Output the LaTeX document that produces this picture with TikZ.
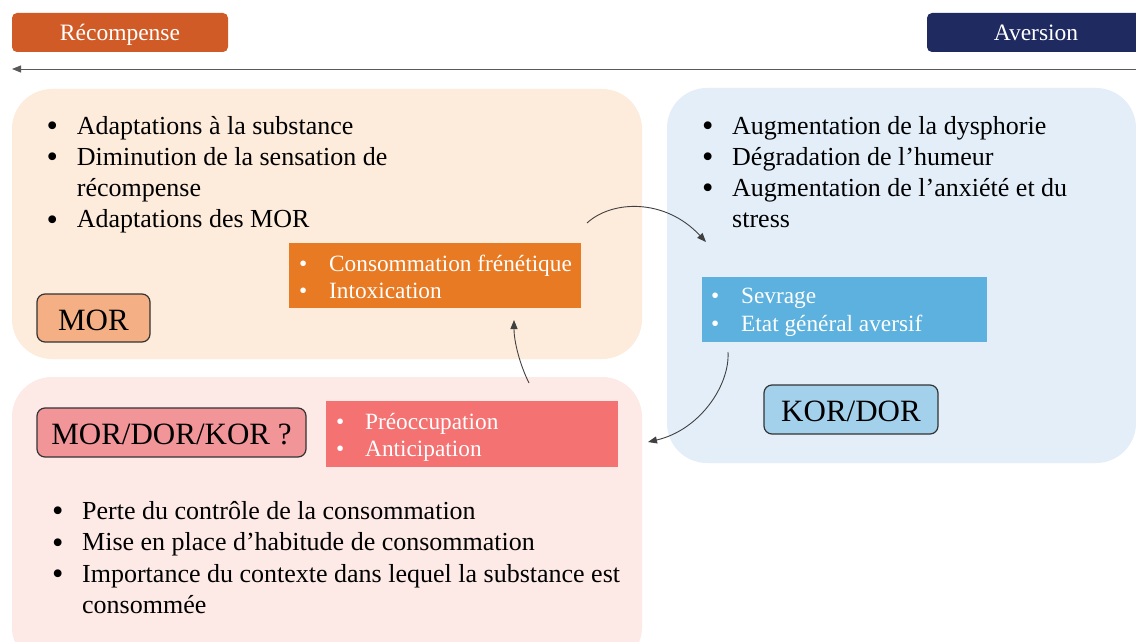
\documentclass[tikz,border=0pt]{standalone}
\usepackage{fontspec}
\setmainfont{Liberation Serif}
\usetikzlibrary{arrows.meta}
\definecolor{recomp}{HTML}{D05B26}
\definecolor{avers}{HTML}{1F2A60}
\definecolor{tlpanel}{HTML}{FDEBDC}
\definecolor{rpanel}{HTML}{E3EEF9}
\definecolor{bpanel}{HTML}{FDE9E5}
\definecolor{orangebox}{HTML}{E97A24}
\definecolor{morfill}{HTML}{F4B084}
\definecolor{mdkfill}{HTML}{F29599}
\definecolor{pinkbox}{HTML}{F47272}
\definecolor{bluebox}{HTML}{5CB1DE}
\definecolor{kdfill}{HTML}{A3D1EC}
\newcommand{\bl}{\raisebox{-2.3pt}{\scalebox{1.25}{\textbullet}}}
\newcommand{\sbl}{\textbullet}
\begin{document}
\begin{tikzpicture}[x=1pt,y=-1pt,
  panel/.style={rectangle, rounded corners=40pt, inner sep=0pt, draw=none},
  tagbox/.style={rectangle, rounded corners=5pt, inner sep=0pt, text=white, text height=17pt, text depth=0pt, font=\fontsize{23.5}{28}\selectfont},
  lab/.style={rectangle, draw=black!80, line width=1.2pt, rounded corners=8pt, inner sep=0pt, text height=24pt, text depth=0pt, font=\fontsize{31}{37}\selectfont},
  sbox/.style={rectangle, inner sep=0pt, draw=none},
  blist/.style={anchor=base west, inner sep=0pt, font=\fontsize{26}{31.3}\selectfont},
  slist/.style={anchor=base west, inner sep=0pt, text=white, font=\fontsize{23.3}{27.5}\selectfont},
  conn/.style={draw=black!75, line width=0.9pt, -{Triangle[length=9pt,width=7pt]}}
]
\useasboundingbox (0,0) rectangle (1136,642);
\fill[white] (0,0) rectangle (1136,642);

% top tags
\node[tagbox, fill=recomp, minimum width=216pt, minimum height=39pt] (recomp) at (120,32.5) {Récompense};
\node[tagbox, fill=avers, minimum width=218pt, minimum height=39pt] (avers) at (1036,32.5) {Aversion};

% axis arrow
\coordinate (axR) at (1136,69);
\coordinate (axL) at (12,69);
\draw[draw=black!65, line width=0.9pt, -{Triangle[length=9pt,width=7pt]}] (axR) -- (axL);

% panels
\node[panel, fill=tlpanel, minimum width=630pt, minimum height=270pt] (tl) at (327,224) {};
\node[panel, fill=rpanel, minimum width=469pt, minimum height=375pt] (rp) at (901.5,275.5) {};
\node[panel, fill=bpanel, minimum width=630pt, minimum height=290pt] (bp) at (327,522) {};

% top-left list
\node[blist] (tllist) at (46.5,134) {\begin{tabular}[t]{@{}p{30.2pt}@{}l@{}}
\bl & Adaptations à la substance\\
\bl & Diminution de la sensation de\\
    & récompense\\
\bl & Adaptations des MOR
\end{tabular}};

% right list
\node[blist] (rlist) at (702,134) {\begin{tabular}[t]{@{}p{30pt}@{}l@{}}
\bl & Augmentation de la dysphorie\\
\bl & Dégradation de l’humeur\\
\bl & Augmentation de l’anxiété et du\\
    & stress
\end{tabular}};

% bottom list
\node[blist] (blist) at (52,519.5) {\begin{tabular}[t]{@{}p{30pt}@{}l@{}}
\bl & Perte du contrôle de la consommation\\
\bl & Mise en place d’habitude de consommation\\
\bl & Importance du contexte dans lequel la substance est\\
    & consommée
\end{tabular}};

% coloured state boxes
\node[sbox, fill=orangebox, minimum width=292pt, minimum height=65pt] (ob) at (435,275.5) {};
\node[slist] (oblist) at (299,271) {\begin{tabular}[t]{@{}p{30pt}@{}l@{}}
\sbl & Consommation frénétique\\
\sbl & Intoxication
\end{tabular}};

\node[sbox, fill=bluebox, minimum width=285pt, minimum height=65pt] (bb) at (844.5,309.5) {};
\node[slist] (bblist) at (711,303.5) {\begin{tabular}[t]{@{}p{30pt}@{}l@{}}
\sbl & Sevrage\\
\sbl & Etat général aversif
\end{tabular}};

\node[sbox, fill=pinkbox, minimum width=292pt, minimum height=66pt] (pb) at (472,434) {};
\node[slist] (pblist) at (336,429) {\begin{tabular}[t]{@{}p{29pt}@{}l@{}}
\sbl & Préoccupation\\
\sbl & Anticipation
\end{tabular}};

% receptor labels
\node[lab, fill=morfill, minimum width=113pt, minimum height=48pt] (mor) at (93.5,318) {MOR};
\node[lab, fill=mdkfill, minimum width=269pt, minimum height=49pt] (mdk) at (171.5,432.5) {MOR/DOR/KOR ?};
\node[lab, fill=kdfill, minimum width=174pt, minimum height=49pt] (kd) at (851,409.5) {KOR/DOR};

% cycle arrows
\coordinate (a1s) at (587,223);
\coordinate (a1e) at (706,242);
\coordinate (a2s) at (728,352);
\coordinate (a2e) at (648,442);
\coordinate (a3s) at (529,383);
\coordinate (a3e) at (514,320);
\draw[conn] (a1s) .. controls (612,200) and (665,198) .. (a1e);
\draw[conn] (a2s) .. controls (730,385) and (700,430) .. (a2e);
\draw[conn] (a3s) .. controls (520,365) and (514,342) .. (a3e);
\end{tikzpicture}
\end{document}
